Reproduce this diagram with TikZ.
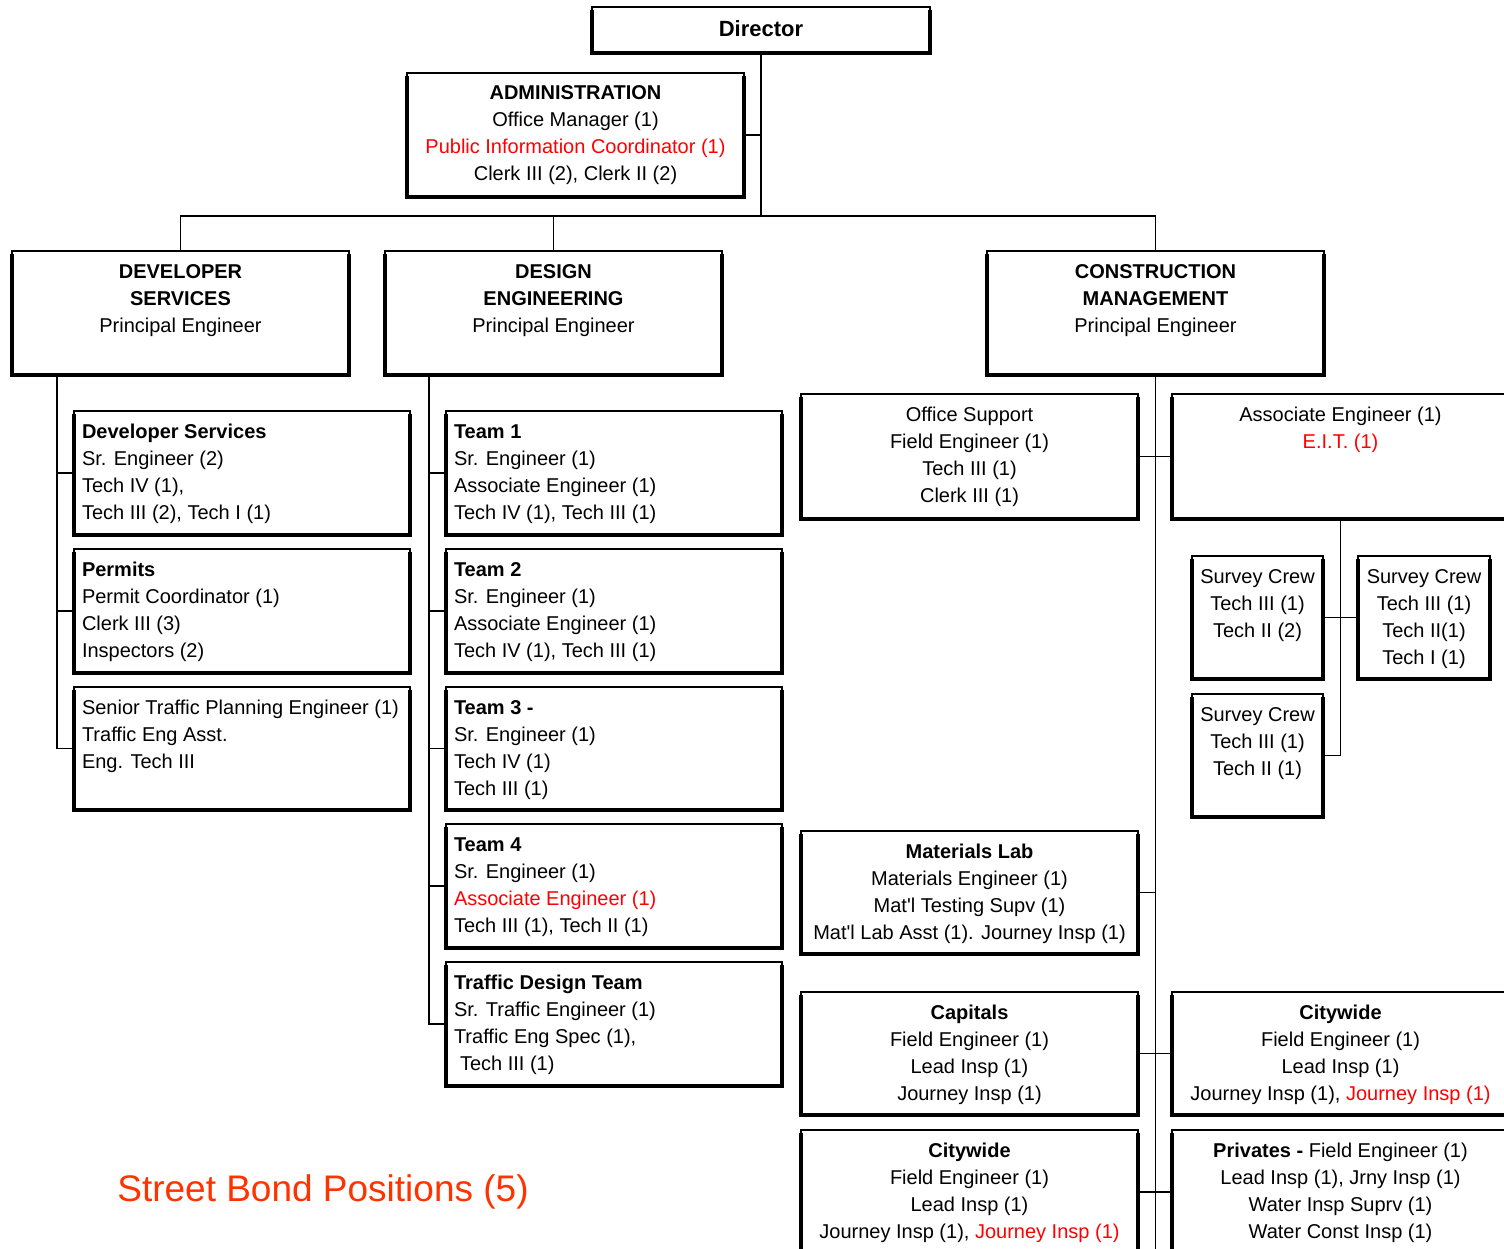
\documentclass[tikz,border=0pt]{standalone}
\usepackage{fontspec}
\setmainfont{Liberation Sans}[Ligatures=TeXOff]
\definecolor{sbred}{HTML}{FF3300}
\newcommand{\firststrut}{\rule{0pt}{15pt}}
\newcommand{\obox}[5]{\node[obox, minimum width=#4pt, minimum height=#5pt] (#1) at ({#2+#4/2},{-#3-#5/2}) {};}
\newcommand{\rd}[1]{\textcolor{red}{#1}}
\begin{document}
\begin{tikzpicture}[x=1pt,y=1pt,
  obox/.style={draw, line width=1.1pt, inner sep=0pt, outer sep=0pt, fill=white},
  conn/.style={line width=1.5pt},
  thickedge/.style={line width=3.2pt},
  ct/.style={inner sep=0pt, outer sep=0pt, align=center, font=\fontsize{20}{27}\selectfont},
  lt/.style={inner sep=0pt, outer sep=0pt, align=left, font=\fontsize{20}{27}\selectfont}]
\useasboundingbox (0,0) rectangle (1504,-1249);
\clip (0,0) rectangle (1504,-1249);

% boxes
\obox{dir}{592}{7}{338}{46}
\obox{adm}{407}{73}{337}{124}
\obox{dev}{12}{251}{337}{124}
\obox{des}{385}{251}{337}{124}
\obox{con}{987}{251}{337}{124}
\obox{dsv}{74}{411}{336}{124}
\obox{prm}{74}{549}{336}{124}
\obox{sen}{74}{687}{336}{123}
\obox{tm1}{446}{411}{336}{124}
\obox{tm2}{446}{549}{336}{124}
\obox{tm3}{446}{687}{336}{123}
\obox{tm4}{446}{824}{336}{124}
\obox{tdt}{446}{962}{336}{124}
\obox{ofs}{801}{394}{337}{125}
\obox{asc}{1172}{394}{337}{125}
\obox{sva}{1192}{556}{131}{123}
\obox{svb}{1358}{556}{132}{123}
\obox{svc}{1192}{694}{131}{123}
\obox{mat}{801}{831}{337}{123}
\obox{cap}{801}{992}{337}{123}
\obox{cwa}{1172}{992}{337}{123}
\obox{cwb}{801}{1130}{337}{124}
\obox{prv}{1172}{1130}{337}{124}

\foreach \n in {dir,adm,dev,des,con,dsv,prm,sen,tm1,tm2,tm3,tm4,tdt,ofs,asc,sva,svb,svc,mat,cap,cwa,cwb,prv}
  \draw[thickedge] ([yshift=-3pt]\n.north west) -- (\n.south west) -- (\n.south east) -- ([yshift=-3pt]\n.north east);

% connectors
\coordinate (bus) at (761,-216);
\coordinate (devT) at ([xshift=45pt]dev.south west);
\coordinate (desT) at ([xshift=44pt]des.south west);
\coordinate (conB) at (1155.5,-1249);
\draw[conn] (dir.south) -- (bus);
\draw[conn] (adm.east) -- (adm.east -| dir.south);
\draw[conn] (dev.north) |- (bus) -| (con.north);
\draw[conn] (des.north) -- (des.north |- bus);
\draw[conn] (devT) |- (sen.west);
\draw[conn] (devT |- dsv.west) -- (dsv.west);
\draw[conn] (devT |- prm.west) -- (prm.west);
\draw[conn] (desT) |- (tdt.west);
\draw[conn] (desT |- tm1.west) -- (tm1.west);
\draw[conn] (desT |- tm2.west) -- (tm2.west);
\draw[conn] (desT |- tm3.west) -- (tm3.west);
\draw[conn] (desT |- tm4.west) -- (tm4.west);
\draw[conn] (con.south) -- (conB);
\draw[conn] (ofs.east) -- (asc.west);
\draw[conn] (mat.east) -- (mat.east -| conB);
\draw[conn] (cap.east) -- (cwa.west);
\draw[conn] (cwb.east) -- (prv.west);
\draw[conn] (asc.south) |- (svc.east);
\draw[conn] (sva.east) -- (svb.west);

% texts
\node[font=\fontsize{22}{26}\selectfont\bfseries, inner sep=0pt] (dirT) at ([yshift=1pt]dir.center) {Director};
\node[ct, anchor=north] (admT) at ([yshift=-12pt]adm.north) {\firststrut\textbf{ADMINISTRATION}\\Office Manager (1)\\\rd{Public Information Coordinator (1)}\\Clerk III (2), Clerk II (2)};
\node[ct, anchor=north] (devX) at ([yshift=-12pt]dev.north) {\firststrut\textbf{DEVELOPER}\\\textbf{SERVICES}\\Principal Engineer};
\node[ct, anchor=north] (desX) at ([yshift=-12pt]des.north) {\firststrut\textbf{DESIGN}\\\textbf{ENGINEERING}\\Principal Engineer};
\node[ct, anchor=north] (conX) at ([yshift=-12pt]con.north) {\firststrut\textbf{CONSTRUCTION}\\\textbf{MANAGEMENT}\\Principal Engineer};

\node[lt, anchor=north west] (dsvX) at ([shift={(8pt,-12pt)}]dsv.north west) {\firststrut\textbf{Developer Services}\\Sr. Engineer (2)\\Tech IV (1),\\Tech III (2), Tech I (1)};
\node[lt, anchor=north west] (prmX) at ([shift={(8pt,-12pt)}]prm.north west) {\firststrut\textbf{Permits}\\Permit Coordinator (1)\\Clerk III (3)\\Inspectors (2)};
\node[lt, anchor=north west] (senX) at ([shift={(8pt,-12pt)}]sen.north west) {\firststrut Senior Traffic Planning Engineer (1)\\Traffic Eng Asst.\\Eng. Tech III};

\node[lt, anchor=north west] (tm1X) at ([shift={(8pt,-12pt)}]tm1.north west) {\firststrut\textbf{Team 1}\\Sr. Engineer (1)\\Associate Engineer (1)\\Tech IV (1), Tech III (1)};
\node[lt, anchor=north west] (tm2X) at ([shift={(8pt,-12pt)}]tm2.north west) {\firststrut\textbf{Team 2}\\Sr. Engineer (1)\\Associate Engineer (1)\\Tech IV (1), Tech III (1)};
\node[lt, anchor=north west] (tm3X) at ([shift={(8pt,-12pt)}]tm3.north west) {\firststrut\textbf{Team 3 -}\\Sr. Engineer (1)\\Tech IV (1)\\Tech III (1)};
\node[lt, anchor=north west] (tm4X) at ([shift={(8pt,-12pt)}]tm4.north west) {\firststrut\textbf{Team 4}\\Sr. Engineer (1)\\\rd{Associate Engineer (1)}\\Tech III (1), Tech II (1)};
\node[lt, anchor=north west] (tdtX) at ([shift={(8pt,-12pt)}]tdt.north west) {\firststrut\textbf{Traffic Design Team}\\Sr. Traffic Engineer (1)\\Traffic Eng Spec (1),\\\hspace*{6pt}Tech III (1)};

\node[ct, anchor=north] (ofsX) at ([yshift=-12pt]ofs.north) {\firststrut Office Support\\Field Engineer (1)\\Tech III (1)\\Clerk III (1)};
\node[ct, anchor=north] (ascX) at ([yshift=-12pt]asc.north) {\firststrut Associate Engineer (1)\\\rd{E.I.T. (1)}};
\node[ct, anchor=north] (svaX) at ([yshift=-12pt]sva.north) {\firststrut Survey Crew\\Tech III (1)\\Tech II (2)};
\node[ct, anchor=north] (svbX) at ([yshift=-12pt]svb.north) {\firststrut Survey Crew\\Tech III (1)\\Tech II(1)\\Tech I (1)};
\node[ct, anchor=north] (svcX) at ([yshift=-12pt]svc.north) {\firststrut Survey Crew\\Tech III (1)\\Tech II (1)};
\node[ct, anchor=north] (matX) at ([yshift=-12pt]mat.north) {\firststrut\textbf{Materials Lab}\\Materials Engineer (1)\\Mat'l Testing Supv (1)\\Mat'l Lab Asst (1). Journey Insp (1)};
\node[ct, anchor=north] (capX) at ([yshift=-12pt]cap.north) {\firststrut\textbf{Capitals}\\Field Engineer (1)\\Lead Insp (1)\\Journey Insp (1)};
\node[ct, anchor=north] (cwaX) at ([yshift=-12pt]cwa.north) {\firststrut\textbf{Citywide}\\Field Engineer (1)\\Lead Insp (1)\\Journey Insp (1), \rd{Journey Insp (1)}};
\node[ct, anchor=north] (cwbX) at ([yshift=-12pt]cwb.north) {\firststrut\textbf{Citywide}\\Field Engineer (1)\\Lead Insp (1)\\Journey Insp (1), \rd{Journey Insp (1)}};
\node[ct, anchor=north] (prvX) at ([yshift=-12pt]prv.north) {\firststrut\textbf{Privates -} Field Engineer (1)\\Lead Insp (1), Jrny Insp (1)\\Water Insp Suprv (1)\\Water Const Insp (1)};

\node[font=\fontsize{37}{44}\selectfont, text=sbred, inner sep=0pt, anchor=base] (sbp) at (323,-1201) {Street Bond Positions (5)};
\end{tikzpicture}
\end{document}
